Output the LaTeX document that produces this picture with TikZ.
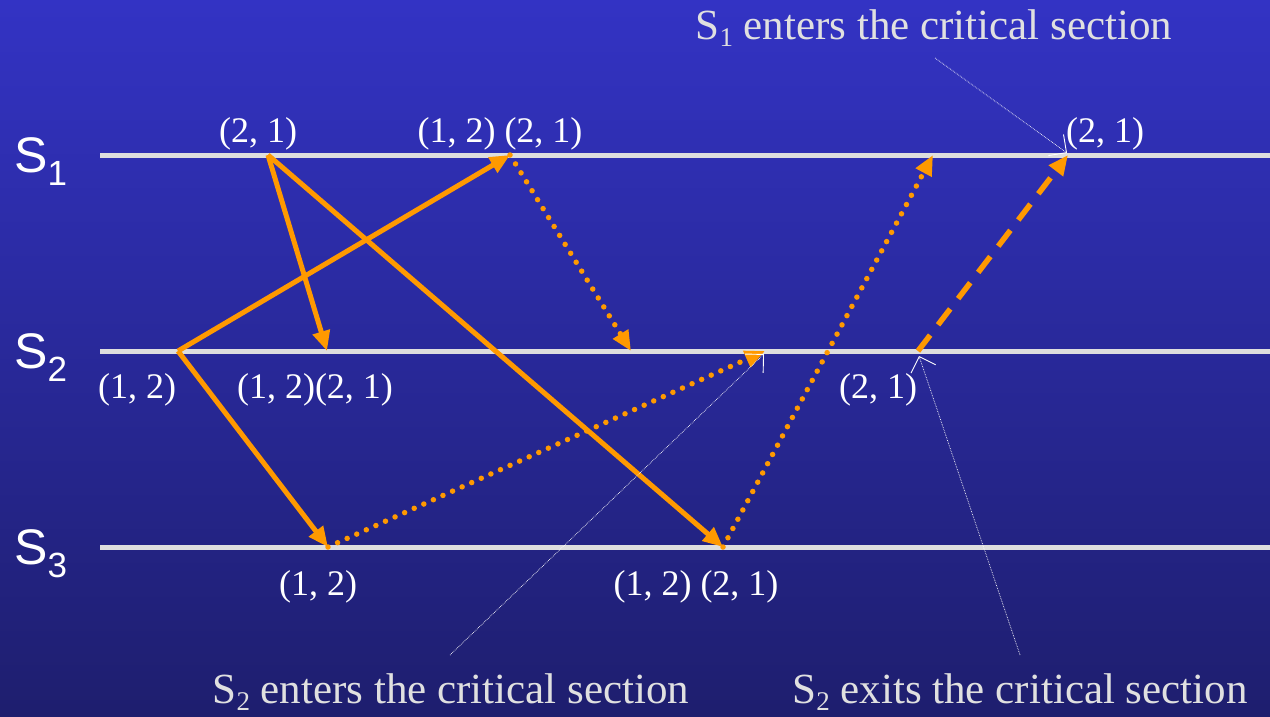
\documentclass[tikz,border=0pt]{standalone}
\usepackage{fontspec}
\setmainfont{Liberation Serif}
\newfontfamily\sansf{Liberation Sans}
\usetikzlibrary{arrows.meta}
\definecolor{bgtop}{RGB}{51,51,196}
\definecolor{bgbot}{RGB}{30,30,110}
\definecolor{msg}{RGB}{255,153,0}
\definecolor{tl}{RGB}{222,222,222}
\definecolor{capc}{RGB}{224,224,224}
\newcommand\subsc[1]{\raisebox{-0.17em}{\fontsize{27}{27}\selectfont #1}}
\newcommand\proc[1]{{\sansf\fontsize{50}{50}\selectfont S\raisebox{-13pt}{\fontsize{35}{35}\selectfont #1}}}
\begin{document}
\begin{tikzpicture}[x=1pt,y=-1pt,
  timeline/.style={draw=tl,line width=5pt,-{Triangle[length=18pt,width=17pt]}},
  msgsolid/.style={draw=msg,line width=5pt,-{Triangle[length=20pt,width=17pt]}},
  msgdot/.style={draw=msg,line width=5.5pt,line cap=round,dash pattern=on 0pt off 10.5pt,-{Triangle[length=20pt,width=17pt]}},
  msgdash/.style={draw=msg,line width=5.5pt,dash pattern=on 20pt off 13pt,-{Triangle[length=20pt,width=17pt]}},
  note/.style={draw=white,line width=0.7pt,densely dotted,-{Straight Barb[length=13pt,width=26pt,line width=0.9pt]}},
  lbl/.style={inner sep=0pt,anchor=base,text=white,font=\fontsize{36}{40}\selectfont},
  capt/.style={inner sep=0pt,anchor=base,text=capc,font=\fontsize{43}{46}\selectfont},
  procl/.style={inner sep=0pt,anchor=base west,text=white}
]
\useasboundingbox (0,0) rectangle (1270,716);
\shade[top color=bgtop,bottom color=bgbot] (0,0) rectangle (1270,716);

% timelines
\coordinate (l1s) at (100,155); \coordinate (l1e) at (1288,155);
\coordinate (l2s) at (100,351); \coordinate (l2e) at (1288,351);
\coordinate (l3s) at (100,547); \coordinate (l3e) at (1288,547);
\draw[timeline] (l1s) -- (l1e);
\draw[timeline] (l2s) -- (l2e);
\draw[timeline] (l3s) -- (l3e);

\node[procl] (p1) at (14,172) {\proc{1}};
\node[procl] (p2) at (14,368) {\proc{2}};
\node[procl] (p3) at (14,564) {\proc{3}};

% events
\coordinate (a1) at (268,155);
\coordinate (b1) at (510,155);
\coordinate (c1) at (933,155);
\coordinate (d1) at (1068,155);
\coordinate (a2) at (178,351);
\coordinate (b2) at (327,351);
\coordinate (c2) at (631,351);
\coordinate (d2) at (765,351);
\coordinate (e2) at (918,351);
\coordinate (a3) at (328,547);
\coordinate (b3) at (723,547);

% messages
\draw[msgsolid] (a1) -- (b2);
\draw[msgsolid] (a1) -- (b3);
\draw[msgsolid] (a2) -- (b1);
\draw[msgsolid] (a2) -- (a3);
\draw[msgdot] (b1) -- (c2);
\draw[msgdot] (a3) -- (d2);
\draw[msgdot] (b3) -- (c1);
\draw[msgdash] (e2) -- (d1);

% labels
\node[lbl] (t1) at (258,142) {(2, 1)};
\node[lbl] (t2) at (500,142) {(1, 2) (2, 1)};
\node[lbl] (t3) at (1105,142) {(2, 1)};
\node[lbl] (m1) at (137,398) {(1, 2)};
\node[lbl] (m2) at (315,398) {(1, 2)(2, 1)};
\node[lbl] (m3) at (878,398) {(2, 1)};
\node[lbl] (u1) at (318,595) {(1, 2)};
\node[lbl] (u2) at (696,595) {(1, 2) (2, 1)};

% captions
\node[capt] (cap1) at (934,39) {S\subsc{1} enters the critical section};
\node[capt] (cap2) at (451,703) {S\subsc{2} enters the critical section};
\node[capt] (cap3) at (1020,703) {S\subsc{2} exits the critical section};

\coordinate (n1) at (935,58);
\coordinate (n2) at (450,655);
\coordinate (n3) at (1020,655);
\coordinate (n1e) at (1067,153);
\coordinate (n2e) at (764,354);
\coordinate (n3e) at (919,356);
\draw[note] (n1) -- (n1e);
\draw[note] (n2) -- (n2e);
\draw[note] (n3) -- (n3e);
\end{tikzpicture}
\end{document}
